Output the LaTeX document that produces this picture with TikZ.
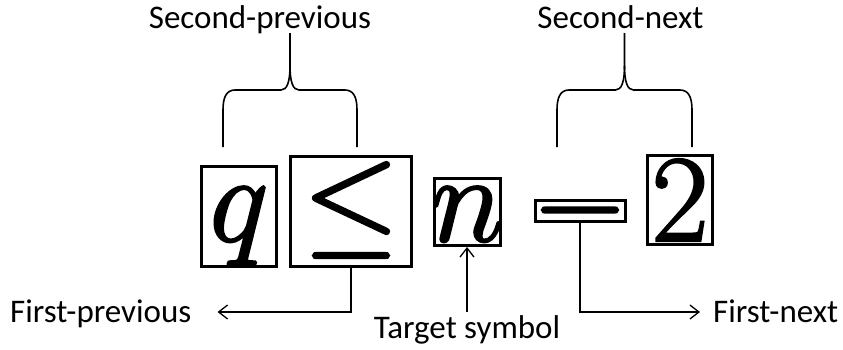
\RequirePackage{fix-cm}
\documentclass[tikz,border=0pt]{standalone}
\usepackage{fontspec}
\newfontfamily\labelfont{Carlito}
\usetikzlibrary{arrows.meta}
%%
%% Glyph outlines filled and stroked, for a heavier look.
\newcommand{\heavy}[1]{\special{pdf:code 2 Tr 2.4 w}#1\special{pdf:code 0 Tr}}
%% A framed symbol: name, centre x, centre y, width, height, glyph.
\newcommand{\symBox}[6]{%%
  \node[boxStyle,minimum width=#4,minimum height=#5] (#1) at (#2,#3) {};
  \node[glyphStyle] (#1Sym) at (#2,\baseY) {\heavy{$#6$}};
}
%% A curly brace opening downwards over two legs.
\newcommand{\groupBrace}[2]{%%
  \pgfmathsetmacro{\midX}{(#1+#2)/2}
  \draw[braceStyle] (#1,\braceLow) -- (#1,110)
    .. controls (#1,98) and (#1+3,90) .. (#1+12,90) -- (\midX-9,90)
    .. controls (\midX-3,90) and (\midX,82) .. (\midX,66) -- (\midX,\braceTip);
  \draw[braceStyle] (#2,\braceLow) -- (#2,110)
    .. controls (#2,98) and (#2-3,90) .. (#2-12,90) -- (\midX+9,90)
    .. controls (\midX+3,90) and (\midX,82) .. (\midX,66);
}

\begin{document}
\begin{tikzpicture}[%%
  x=1pt,y=-1pt,%%
  boxStyle/.style={draw,line width=3pt,inner sep=0pt},%%
  glyphStyle/.style={anchor=base,inner sep=0pt,font=\fontsize{124}{124}\selectfont},%%
  labelStyle/.style={inner sep=0pt,text height=26pt,text depth=6pt,font=\labelfont\fontsize{33}{40}\selectfont},%%
  connStyle/.style={line width=1.3pt},%%
  braceStyle/.style={line width=1.6pt,line join=round},%%
  >={Straight Barb[length=9pt,width=14pt]}
]
%%
\useasboundingbox (0,0) rectangle (843,349);
\pgfmathsetmacro{\baseY}{241}
\pgfmathsetmacro{\braceLow}{147}
\pgfmathsetmacro{\braceTip}{33}
%%
%% The symbols of the expression.
\symBox{boxQ}{239}{216.5}{75}{100}{q}
\symBox{boxLeq}{351}{211.5}{121}{110}{\leq}
\symBox{boxN}{467.5}{212}{66}{67}{n}
\symBox{boxMinus}{580}{211}{90}{21}{-}
\symBox{boxTwo}{680}{200}{65}{89}{2}
%%
%% Labels.
\node[labelStyle,anchor=base] (secPrev) at (260,28) {Second-previous};
\node[labelStyle,anchor=base] (secNext) at (620.5,28) {Second-next};
\node[labelStyle,anchor=base west] (firstPrev) at (10,322) {First-previous};
\node[labelStyle,anchor=base west] (firstNext) at (713,322) {First-next};
\node[labelStyle,anchor=base] (target) at (467,338) {Target symbol};
%%
%% Braces for the second neighbours.
\groupBrace{223}{357}
\groupBrace{557}{692}
%%
%% Arrows for the first neighbours and the target.
\draw[connStyle,->,shorten >=26pt] (boxLeq.south) |- (firstPrev.east);
\draw[connStyle,->,shorten >=13pt] (boxMinus.south) |- (firstNext.west);
\draw[connStyle,->] (target.north) -- (target.north |- boxN.south);
\end{tikzpicture}
\end{document}
